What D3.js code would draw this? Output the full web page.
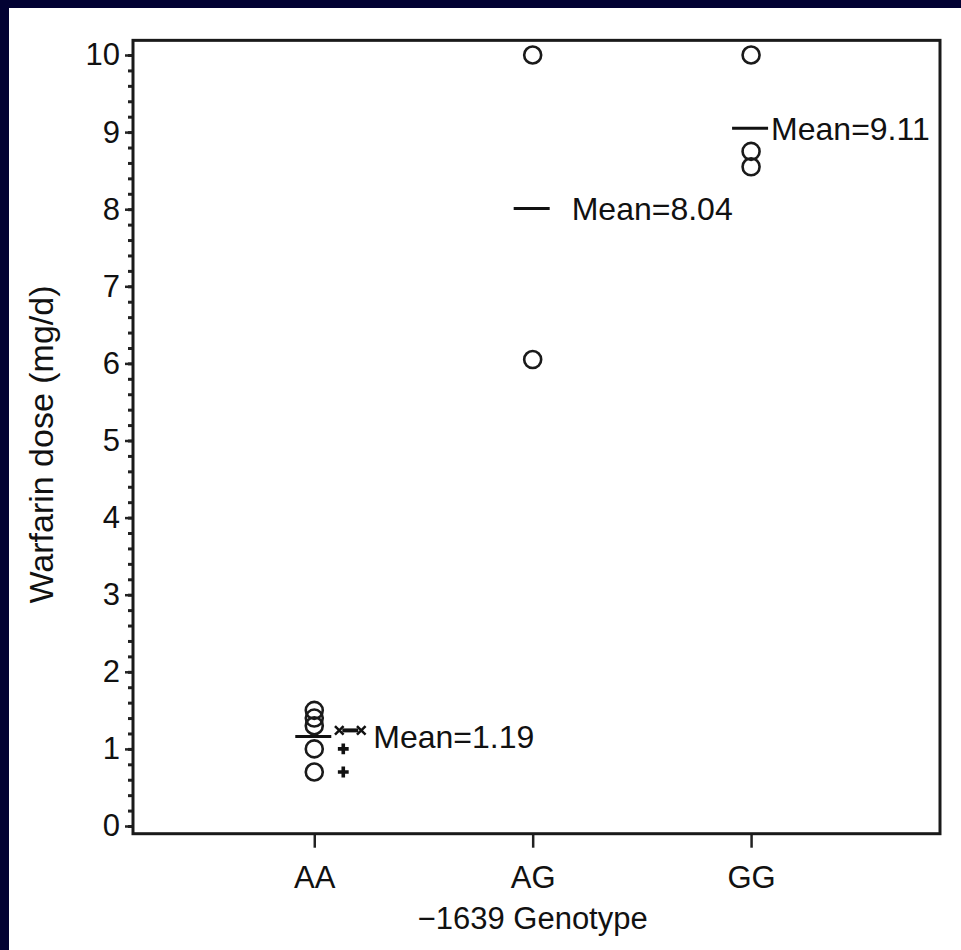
<!DOCTYPE html>
<html>
<head>
<meta charset="utf-8">
<script src="https://cdn.jsdelivr.net/npm/d3@7"></script>
<style>
  body { margin: 0; background: #020233; }
  text { font-family: "Liberation Sans", Arial, sans-serif; fill: #111; }
</style>
</head>
<body>
<div id="graph"></div>
<script>
// genotype groups and their warfarin doses (mg/d)
const genotypes = ["AA", "AG", "GG"];
const aaDoses = [1.5, 1.4, 1.3, 1.0, 0.7];
const agDoses = [10, 6.05];
const ggDoses = [10, 8.75, 8.55];
const meanLines = [1.16, 8.01, 9.05];
const meanLabels = ["Mean=1.19", "Mean=8.04", "Mean=9.11"];
// small flagged markers beside AA
const aaFlags = [1.0, 0.7];
const aaStarred = [1.24];
const yMajor = [0, 1, 2, 3, 4, 5, 6, 7, 8, 9, 10];

const W = 961, H = 950;

const svg = d3.select("#graph").append("svg")
  .attr("width", W).attr("height", H);

svg.append("rect").attr("width", W).attr("height", H).attr("fill", "#020233");
svg.append("rect").attr("x", 9).attr("y", 8)
  .attr("width", W - 9).attr("height", H - 8).attr("fill", "#fff");

const x = d3.scaleLinear().domain([0.17, 3.865]).range([133, 940]);
const y = d3.scaleLinear().domain([0, 10]).range([826, 55]);
const frameTop = y(10.19), frameBottom = y(-0.1);

//minor ticks
svg.append("g")
  .attr("transform", "translate(133,0)")
  .call(d3.axisLeft(y).tickValues(d3.range(0, 10.01, 0.2)).tickSize(5).tickFormat(""))
  .call(g => g.select(".domain").remove())
  .selectAll("line").attr("stroke", "#222").attr("stroke-width", 3);

//major ticks + labels
svg.append("g")
  .attr("transform", "translate(133,0)")
  .call(d3.axisLeft(y).tickValues(yMajor).tickSize(8).tickPadding(5))
  .call(g => g.select(".domain").remove())
  .call(g => g.selectAll("line").attr("stroke", "#222").attr("stroke-width", 2.5))
  .selectAll("text")
  .style("font-size", "31px")
  .attr("fill", "#111")
  .attr("font-family", "Liberation Sans, Arial, sans-serif");

//x axis
svg.append("g")
  .attr("transform", "translate(0," + frameBottom + ")")
  .call(d3.axisBottom(x).tickValues([1, 2, 3])
    .tickFormat(i => genotypes[i - 1]).tickSize(14).tickPadding(18))
  .call(g => g.select(".domain").remove())
  .call(g => g.selectAll("line").attr("stroke", "#222").attr("stroke-width", 2.5))
  .selectAll("text")
  .style("font-size", "31px")
  .attr("fill", "#111")
  .attr("font-family", "Liberation Sans, Arial, sans-serif");

//frame
svg.append("rect")
  .attr("x", 133).attr("y", frameTop)
  .attr("width", 940 - 133).attr("height", frameBottom - frameTop)
  .attr("fill", "none").attr("stroke", "#1a1a1a").attr("stroke-width", 3);

//axis titles
svg.append("text")
  .attr("transform", "translate(53," + (y(5) + 4) + ") rotate(-90)")
  .attr("text-anchor", "middle")
  .style("font-size", "34px")
  .text("Warfarin dose (mg/d)");

svg.append("text")
  .attr("x", x(2)).attr("y", 929)
  .attr("text-anchor", "middle")
  .style("font-size", "31px")
  .text("\u22121639 Genotype");

//points
const groups = [aaDoses, agDoses, ggDoses];
const points = groups.flatMap((vals, i) => vals.map(v => ({ g: i + 1, v: v })));

svg.append("g")
  .selectAll("circle")
  .data(points)
  .enter()
  .append("circle")
  .attr("cx", d => x(d.g))
  .attr("cy", d => y(d.v))
  .attr("r", 8.5)
  .attr("fill", "none")
  .attr("stroke", "#1a1a1a")
  .attr("stroke-width", 2.6);

//mean lines
svg.append("g")
  .selectAll("line")
  .data(meanLines)
  .enter()
  .append("line")
  .attr("x1", (d, i) => x(i + 1) - 19)
  .attr("x2", (d, i) => x(i + 1) + 17)
  .attr("y1", d => y(d))
  .attr("y2", d => y(d))
  .attr("stroke", "#111")
  .attr("stroke-width", 3);

const labelOffset = [59, 39, 20];
svg.append("g")
  .selectAll("text")
  .data(meanLabels)
  .enter()
  .append("text")
  .attr("x", (d, i) => x(i + 1) + labelOffset[i])
  .attr("y", (d, i) => y(meanLines[i]))
  .attr("dy", "0.36em")
  .style("font-size", "32px")
  .text(d => d);

//flag markers next to AA
const cross = d3.symbol().type(d3.symbolCross).size(65);
svg.append("g")
  .selectAll("path")
  .data(aaFlags)
  .enter()
  .append("path")
  .attr("d", cross)
  .attr("transform", d => "translate(" + (x(1) + 29) + "," + y(d) + ")")
  .attr("fill", "#111");

const starred = svg.append("g").selectAll("g")
  .data(aaStarred)
  .enter()
  .append("g")
  .attr("transform", d => "translate(" + (x(1) + 36) + "," + y(d) + ")");
starred.append("line")
  .attr("x1", -8).attr("x2", 8)
  .attr("stroke", "#111").attr("stroke-width", 4);
starred.selectAll("path")
  .data([-11, 11])
  .enter()
  .append("path")
  .attr("d", d3.symbol().type(d3.symbolTimes || d3.symbolCross).size(50))
  .attr("transform", d => "translate(" + d + ",0)")
  .attr("fill", "none")
  .attr("stroke", "#111")
  .attr("stroke-width", 2.5);
</script>
</body>
</html>
